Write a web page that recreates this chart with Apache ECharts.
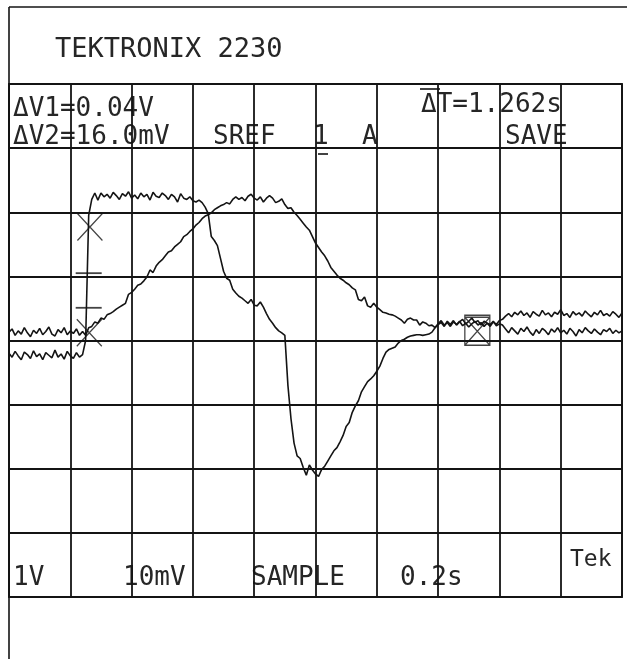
<!DOCTYPE html>
<html>
<head>
<meta charset="utf-8">
<title>TEKTRONIX 2230</title>
<script src="https://cdn.jsdelivr.net/npm/echarts@6/dist/echarts.min.js"></script>
<style>
  html, body { margin: 0; padding: 0; background: #ffffff; }
  #scope { width: 627px; height: 659px; }
</style>
</head>
<body>
<div id="scope"></div>
<script>
// Graticule: 10 x 8 divisions, one sample every 0.05 div (0.2 s/div timebase)
const sampleStep = 0.05;

// Stored waveform, pulse channel (divisions from bottom of graticule)
const pulseTrace = [
  3.80,3.74,3.83,3.76,3.70,3.82,3.78,3.72,3.84,3.75,3.79,3.70,3.81,3.77,3.73,3.85,3.74,3.79,3.71,3.83,3.76,3.72,3.81,3.74,
  3.78,4.00,5.95,6.20,
  6.30,6.19,6.30,6.24,6.28,6.22,6.31,6.26,6.20,6.29,6.25,6.32,6.22,6.27,6.21,6.30,6.24,6.28,6.19,6.31,6.25,6.23,6.30,6.26,6.20,6.28,6.24,6.16,6.29,6.22,
  6.20,6.24,6.18,6.16,6.19,6.15,6.08,5.98,5.62,5.56,5.48,5.28,5.08,4.97,4.94,4.80,4.74,4.69,4.66,4.62,4.58,4.64,4.55,4.54,4.60,4.52,4.42,4.33,4.27,4.20,4.15,4.12,4.08,
  3.30,2.78,2.40,2.20,2.16,2.02,1.90,2.06,1.98,1.92,1.88,1.99,2.04,2.12,2.20,2.28,2.33,2.42,2.52,2.66,2.72,2.88,2.98,3.06,3.20,3.28,3.36,3.40,3.45,3.52,3.60,3.72,3.82,3.86,3.88,3.90,3.96,4.00,4.02,4.05,4.07,4.08,4.09,4.09,4.08,4.09,4.10,4.13,4.20,4.25,
  4.28,4.22,4.30,4.25,4.31,4.24,4.29,4.33,4.26,4.30,4.35,4.28,4.31,4.24,4.30,4.27,4.22,4.29,4.25,4.31,4.33,
  4.38,4.42,4.37,4.44,4.40,4.46,4.39,4.43,4.36,4.45,4.41,4.38,4.47,4.40,4.43,4.37,4.44,4.41,4.48,4.39,4.42,4.36,4.45,4.40,4.43,4.38,4.46,4.41,4.37,4.44,4.40,4.47,4.39,4.42,4.38,4.45,4.41,4.36,4.43
];

// Stored waveform, ramp channel
const rampTrace = [
  4.13,4.18,4.08,4.15,4.10,4.20,4.12,4.06,4.16,4.11,4.19,4.09,4.14,4.21,4.10,4.07,4.17,4.12,4.20,4.09,4.15,4.11,4.18,4.08,4.14,
  4.08,4.20,4.22,4.29,4.27,4.35,4.33,4.40,4.42,4.45,4.49,4.52,4.55,4.58,4.72,
  4.75,4.80,4.86,4.88,4.93,4.99,5.10,5.06,5.16,5.22,5.26,5.32,5.38,5.40,5.46,5.50,5.54,5.62,5.65,5.70,5.74,
  5.80,5.84,5.90,5.94,5.96,5.99,6.04,6.07,6.10,6.12,6.15,6.13,6.20,6.24,6.20,6.23,6.18,6.25,6.28,6.22,6.19,6.24,6.16,6.22,6.26,6.22,6.15,6.17,6.21,6.12,
  6.06,6.07,6.00,5.95,5.89,5.83,5.77,5.72,5.62,5.52,5.45,5.38,5.32,5.24,5.14,5.08,5.02,4.97,4.94,4.90,4.87,4.82,4.79,4.64,4.62,4.68,4.54,4.52,4.58,4.52,4.48,4.44,4.43,4.41,4.40,4.38,4.35,4.32,4.27,4.33,4.35,4.32,4.32,4.24,4.29,4.27,4.23,4.24,4.20,
  4.26,4.31,4.24,4.28,4.22,4.29,4.25,4.30,4.23,4.27,4.21,4.26,4.30,4.24,4.28,4.22,4.27,4.25,4.30,4.23,4.26,4.24,
  4.18,4.12,4.20,4.15,4.10,4.19,4.14,4.21,4.13,4.08,4.17,4.11,4.19,4.15,4.09,4.18,4.13,4.20,4.12,4.16,4.10,4.19,4.14,4.07,4.17,4.12,4.20,4.15,4.11,4.18,4.13,4.09,4.17,4.14,4.19,4.11,4.16,4.12,4.15
];

// Cursor readouts (graticule divisions)
const voltCursorCrosses = [[1.32, 5.77], [1.31, 4.12]];
const voltCursorTicks = [[1.30, 5.05], [1.30, 4.51]];
const timeCursorBox = [[7.64, 4.16]];

// Screen readouts
const headerText = 'TEKTRONIX 2230';
const deltaV1 = 'ΔV1=0.04V';
const deltaV2 = 'ΔV2=16.0mV';
const deltaT = 'ΔT=1.262s';
const modeTexts = ['SREF', '1', 'A', 'SAVE'];
const settingTexts = ['1V', '10mV', 'SAMPLE', '0.2s'];
const brandText = 'Tek';

const ink = '#141414';
const textInk = '#262626';
const monoFont = '"DejaVu Sans Mono", "Liberation Mono", monospace';

function toPairs(values) {
  return values.map((v, i) => [Math.round(i * sampleStep * 100) / 100, v]);
}

function readout(text, x, y, size) {
  return {
    type: 'text', x: x, y: y, silent: true,
    style: {
      text: text, fill: textInk,
      font: (size || 26) + 'px ' + monoFont,
      align: 'left', verticalAlign: 'middle',
      textAlign: 'left', textVerticalAlign: 'middle'
    }
  };
}

function rule(x1, y1, x2, y2, w) {
  return {
    type: 'line', silent: true,
    shape: { x1: x1, y1: y1, x2: x2, y2: y2 },
    style: { stroke: ink, lineWidth: w || 1.6 }
  };
}

const chart = echarts.init(document.getElementById('scope'), null, { renderer: 'canvas' });

const axisCommon = {
  type: 'value',
  interval: 1,
  axisLabel: { show: false },
  axisTick: { show: false },
  axisLine: { show: false },
  splitLine: { show: true, lineStyle: { color: ink, width: 1.8 } }
};

chart.setOption({
  animation: false,
  backgroundColor: '#ffffff',
  grid: {
    left: 9, right: 5, top: 84, bottom: 62,
    show: true, borderColor: ink, borderWidth: 1.8, backgroundColor: 'transparent'
  },
  xAxis: Object.assign({}, axisCommon, { min: 0, max: 10 }),
  yAxis: Object.assign({}, axisCommon, { min: 0, max: 8 }),
  series: [
    {
      name: 'pulse', type: 'line', data: toPairs(pulseTrace),
      showSymbol: false, silent: true,
      lineStyle: { color: ink, width: 1.6 }
    },
    {
      name: 'ramp', type: 'line', data: toPairs(rampTrace),
      showSymbol: false, silent: true,
      lineStyle: { color: ink, width: 1.6 }
    },
    {
      name: 'cursor crosses', type: 'scatter', data: voltCursorCrosses,
      symbol: 'path://M0,0L10,11M10,0L0,11', symbolSize: [25, 27], silent: true,
      itemStyle: { color: 'none', borderColor: ink, borderWidth: 1.3 }
    },
    {
      name: 'cursor ticks', type: 'scatter', data: voltCursorTicks,
      symbol: 'rect', symbolSize: [26, 1.8], silent: true,
      itemStyle: { color: ink }
    },
    {
      name: 'time cursor', type: 'scatter', data: timeCursorBox,
      symbol: 'path://M0,0H10V12H0ZM0,0.8H10M0,12L10,0.8M0,0.8L10,12', symbolSize: [25, 30], silent: true,
      itemStyle: { color: 'none', borderColor: ink, borderWidth: 1.4 }
    }
  ],
  graphic: [
    rule(9, 7, 627, 7),
    rule(9, 7, 9, 659),
    readout(headerText, 55, 50, 27),
    readout(deltaV1, 13, 109),
    readout(deltaV2, 13, 137),
    readout(modeTexts[0], 213, 137),
    readout(modeTexts[1], 313, 137),
    readout(modeTexts[2], 362, 137),
    readout(deltaT, 421, 105),
    rule(420, 89, 440, 89, 1.6),
    rule(318, 154, 328, 154, 1.6),
    readout(modeTexts[3], 505, 137),
    readout(settingTexts[0], 13, 578),
    readout(settingTexts[1], 123, 578),
    readout(settingTexts[2], 251, 578),
    readout(settingTexts[3], 400, 578),
    readout(brandText, 570, 560, 23)
  ]
});
</script>
</body>
</html>
